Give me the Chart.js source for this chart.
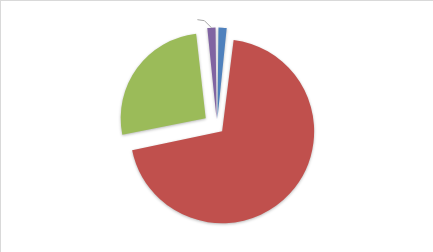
<!DOCTYPE html>
<html>
<head>
<meta charset="utf-8">
<script src="https://cdn.jsdelivr.net/npm/chart.js@4/dist/chart.umd.min.js"></script>
<style>
  html, body { margin: 0; padding: 0; background: #fff; }
  #quadro {
    width: 433px; height: 252px; box-sizing: border-box;
    border-top: 1px solid #d9d9d9; border-left: 1px solid #d9d9d9;
  }
  canvas { display: block; }
</style>
</head>
<body>
<div id="quadro"><canvas id="pizza" width="432" height="251"></canvas></div>
<script>
// Dados da pizza (em %)
var categorias = ['A', 'B', 'C', 'D'];
var valores = [1.8, 70.1, 26.3, 1.8];
var cores = ['#4F81BD', '#C0504D', '#9BBB59', '#8064A2'];

// Distância em px que cada fatia é "explodida" do centro
var explosao = 14;

// Chart.js desloca offset/4 * (2 - sin(ângulo)), então corrige para deslocamento igual
function offsetFatia(ctx) {
    var total = valores.reduce(function(a, b) { return a + b; }, 0);
    var circ = valores[ctx.dataIndex] / total * Math.PI * 2;
    var fix = 1 - Math.sin(Math.min(Math.PI, circ));
    return 4 * explosao / (1 + fix);
}

// Sombra suave nas fatias
var sombra = {
    id: 'sombra',
    beforeDatasetsDraw: function(chart) {
        var c = chart.ctx;
        c.save();
        c.shadowColor = 'rgba(0,0,0,0.28)';
        c.shadowBlur = 3;
        c.shadowOffsetY = 1;
    },
    afterDatasetsDraw: function(chart) {
        chart.ctx.restore();
    }
};

// Linha de chamada da última fatia (rótulo vazio)
var chamada = {
    id: 'chamada',
    afterDatasetsDraw: function(chart) {
        var arco = chart.getDatasetMeta(0).data[3];
        var o = arco.options.offset / 4;
        var circ = arco.endAngle - arco.startAngle;
        var desloc = o + o * (1 - Math.sin(Math.min(Math.PI, circ)));
        var meio = (arco.startAngle + arco.endAngle) / 2;
        var x0 = arco.x + Math.cos(meio) * (desloc + arco.outerRadius);
        var y0 = arco.y + Math.sin(meio) * (desloc + arco.outerRadius);
        var c = chart.ctx;
        c.save();
        c.strokeStyle = '#a6a6a6';
        c.lineWidth = 1;
        c.beginPath();
        c.moveTo(x0, y0);
        c.lineTo(x0 - 7, y0 - 7);
        c.lineTo(x0 - 14, y0 - 8);
        c.stroke();
        c.restore();
    }
};

var ctx = document.getElementById('pizza').getContext('2d');
var grafico = new Chart(ctx, {
    type: 'pie',
    data: {
        labels: categorias,
        datasets: [{
            data: valores,
            backgroundColor: cores,
            borderWidth: 0,
            offset: offsetFatia
        }]
    },
    options: {
        responsive: false,
        animation: false,
        radius: 85,
        layout: { padding: 0 },
        plugins: {
            legend: { display: false },
            tooltip: { enabled: false }
        }
    },
    plugins: [sombra, chamada]
});
</script>
</body>
</html>
